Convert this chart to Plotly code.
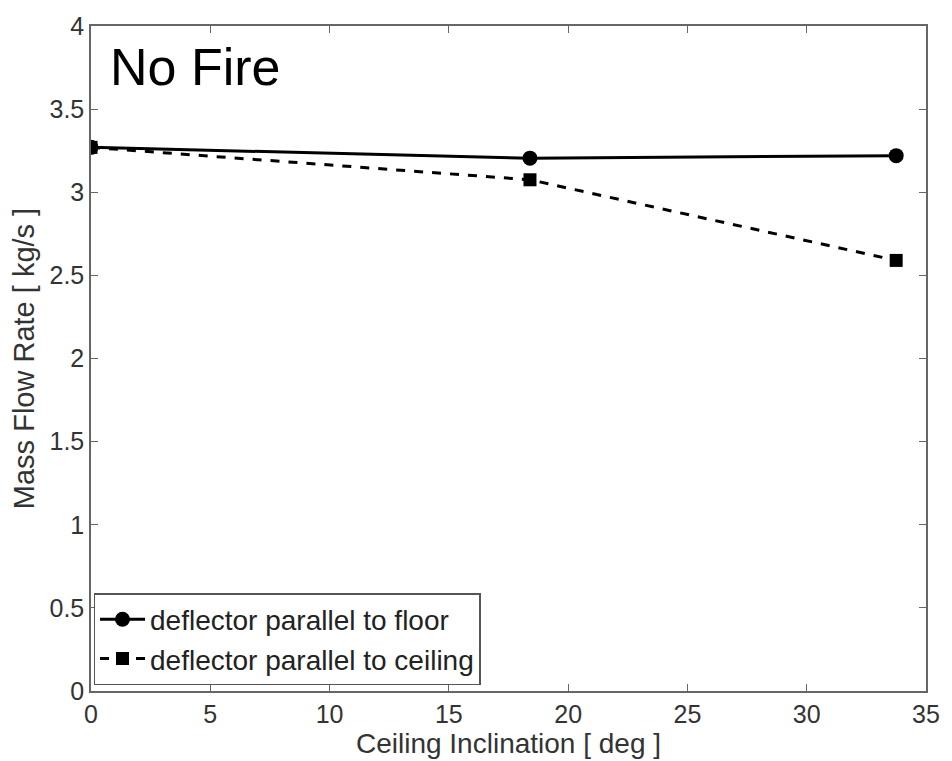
import plotly.graph_objects as go

inclination = [0, 18.4, 33.75]
floor_flow = [3.27, 3.205, 3.22]
ceiling_flow = [3.27, 3.075, 2.59]
x_ticks = [0, 5, 10, 15, 20, 25, 30, 35]
y_ticks = [0, 0.5, 1, 1.5, 2, 2.5, 3, 3.5, 4]
y_tick_text = ["0", "0.5", "1", "1.5", "2", "2.5", "3", "3.5", "4"]

FONT = "Liberation Sans, Arial, Helvetica"

fig = go.Figure()
fig.add_trace(go.Scatter(
    x=inclination, y=floor_flow, mode="lines+markers",
    name="deflector parallel to floor",
    line=dict(color="black", width=3, dash="solid"),
    marker=dict(symbol="circle", size=15, color="black")))
fig.add_trace(go.Scatter(
    x=inclination, y=ceiling_flow, mode="lines+markers",
    name="deflector parallel to ceiling",
    line=dict(color="black", width=3, dash="dash"),
    marker=dict(symbol="square", size=13, color="black")))

axis_common = dict(
    showgrid=False, zeroline=False, showline=True, mirror="ticks",
    linecolor="#666", linewidth=1.5, ticks="inside", ticklen=7,
    tickcolor="#666", tickfont=dict(family=FONT, size=25, color="#333"),
)
fig.update_xaxes(range=[0, 35], tickvals=x_ticks,
                 title=dict(text="Ceiling Inclination [ deg ]", standoff=0,
                            font=dict(family=FONT, size=28, color="#333")),
                 **axis_common)
fig.update_yaxes(range=[0, 4], tickvals=y_ticks, ticktext=y_tick_text,
                 title=dict(text="Mass Flow Rate [ kg/s ]", standoff=6,
                            font=dict(family=FONT, size=29, color="#333")),
                 **axis_common)

fig.add_annotation(text="No Fire", xref="paper", yref="paper", x=0.02, y=0.985,
                   xanchor="left", yanchor="top", showarrow=False,
                   font=dict(family="Liberation Sans Narrow, Arial Narrow, Liberation Sans", size=52, color="black"))

fig.update_layout(
    width=952, height=761,
    margin=dict(l=91, r=16, t=17, b=70),
    paper_bgcolor="white", plot_bgcolor="white",
    showlegend=True,
    legend=dict(x=0.003, y=0.009, xanchor="left", yanchor="bottom",
                bordercolor="#555", borderwidth=1.5, bgcolor="white",
                font=dict(family=FONT, size=28, color="#222"),
                itemwidth=45, tracegroupgap=0),
)

fig.write_html("out.html")
